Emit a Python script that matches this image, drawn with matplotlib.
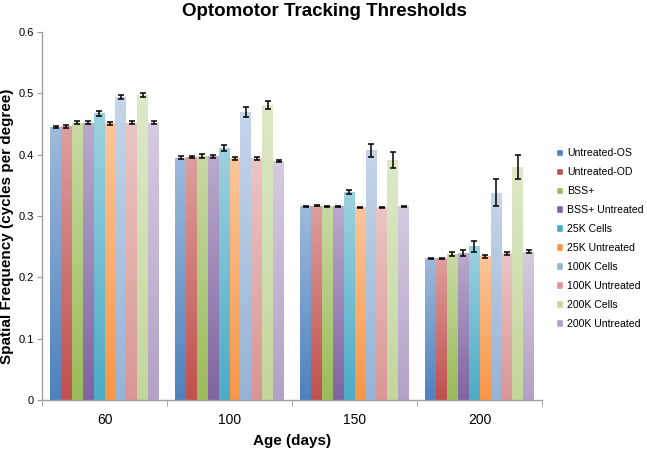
import numpy as np
import matplotlib
matplotlib.use('Agg')
import matplotlib.pyplot as plt
from matplotlib.colors import to_rgb

plt.rcParams['font.family'] = ['Liberation Sans', 'DejaVu Sans']

ages = ['60', '100', '150', '200']
series = ['Untreated-OS', 'Untreated-OD', 'BSS+', 'BSS+ Untreated', '25K Cells',
          '25K Untreated', '100K Cells', '100K Untreated', '200K Cells', '200K Untreated']
colors = ['#4F81BD', '#C0504D', '#9BBB59', '#8064A2', '#4BACC6',
          '#F79646', '#95B3D7', '#D99694', '#C3D69B', '#B2A1C7']

# values per series, one entry per age
untreated_os = [0.445, 0.395, 0.316, 0.231]
untreated_od = [0.446, 0.396, 0.317, 0.231]
bss = [0.452, 0.398, 0.316, 0.238]
bss_untr = [0.452, 0.397, 0.316, 0.239]
k25 = [0.467, 0.411, 0.339, 0.251]
k25_untr = [0.451, 0.394, 0.314, 0.234]
k100 = [0.494, 0.469, 0.407, 0.338]
k100_untr = [0.452, 0.394, 0.314, 0.239]
k200 = [0.497, 0.481, 0.391, 0.380]
k200_untr = [0.452, 0.390, 0.316, 0.242]

err_os = [0.002, 0.002, 0.001, 0.001]
err_od = [0.002, 0.002, 0.001, 0.001]
err_bss = [0.002, 0.003, 0.001, 0.004]
err_bss_untr = [0.002, 0.002, 0.001, 0.005]
err_k25 = [0.004, 0.005, 0.004, 0.009]
err_k25_untr = [0.002, 0.002, 0.001, 0.002]
err_k100 = [0.003, 0.008, 0.011, 0.022]
err_k100_untr = [0.002, 0.002, 0.001, 0.002]
err_k200 = [0.003, 0.006, 0.013, 0.020]
err_k200_untr = [0.002, 0.002, 0.001, 0.002]

values = [untreated_os, untreated_od, bss, bss_untr, k25, k25_untr, k100, k100_untr, k200, k200_untr]
errors = [err_os, err_od, err_bss, err_bss_untr, err_k25, err_k25_untr, err_k100, err_k100_untr, err_k200, err_k200_untr]

fig = plt.figure(figsize=(6.47, 4.49), dpi=100)
ax = fig.add_axes([0.065, 0.109, 0.773, 0.82])

x = np.arange(len(ages))
w = 0.087
n = len(series)
for i in range(n):
    pos = x + (i - (n - 1) / 2) * w
    bars = ax.bar(pos, values[i], width=w, color=colors[i], label=series[i],
                  edgecolor='white', linewidth=0.3, zorder=2)
    # excel style gradient: darker at the base, lighter at the top
    base = np.array(to_rgb(colors[i]))
    light = base + (1 - base) * 0.45
    grad = np.linspace(0, 1, 64)[:, None, None]
    img = base * (1 - grad) + light * grad
    for b in bars:
        x0, y0 = b.get_x(), b.get_y()
        im = ax.imshow(img, extent=[x0, x0 + b.get_width(), y0, y0 + b.get_height()],
                       origin='lower', aspect='auto', zorder=2.5)
        im.set_clip_path(b)
    ax.errorbar(pos, values[i], yerr=errors[i], fmt='none', ecolor='black',
                elinewidth=1.1, capsize=2.3, capthick=1.1, zorder=3)

ax.set_xlim(-0.5, 3.5)
ax.set_ylim(0, 0.6)
ax.set_yticks(np.arange(0, 0.61, 0.1))
ax.set_yticklabels(['0', '0.1', '0.2', '0.3', '0.4', '0.5', '0.6'])
ax.set_xticks(x)
ax.set_xticklabels(ages, fontsize=10)
ax.set_xticks(np.arange(-0.5, 3.6, 1), minor=True)
ax.tick_params(axis='x', which='major', length=0, pad=9)
ax.tick_params(axis='x', which='minor', length=4, color='#999999', direction='out')
ax.tick_params(axis='y', labelsize=8, length=3.5, pad=2.5, color='#999999', direction='out')
for s in ['top', 'right']:
    ax.spines[s].set_visible(False)
for s in ['left', 'bottom']:
    ax.spines[s].set_color('#A0A0A0')
    ax.spines[s].set_linewidth(1.0)

fig.text(324 / 647, 1 - 12 / 449, 'Optomotor Tracking Thresholds', fontsize=13.5,
         fontweight='bold', ha='center', va='center')
fig.text(7 / 647, 1 - 226 / 449, 'Spatial Frequency (cycles per degree)', fontsize=11,
         fontweight='bold', rotation=90, ha='center', va='center')
ax.set_xlabel('Age (days)', fontsize=11, fontweight='bold', labelpad=5)

ax.legend(loc='center left', bbox_to_anchor=(0.855, 0.468), bbox_transform=fig.transFigure,
          frameon=False, fontsize=7.6, handlelength=0.55, handleheight=0.55, handletextpad=0.35,
          labelspacing=0.85, borderaxespad=0)

fig.savefig('out.png', dpi=100)
